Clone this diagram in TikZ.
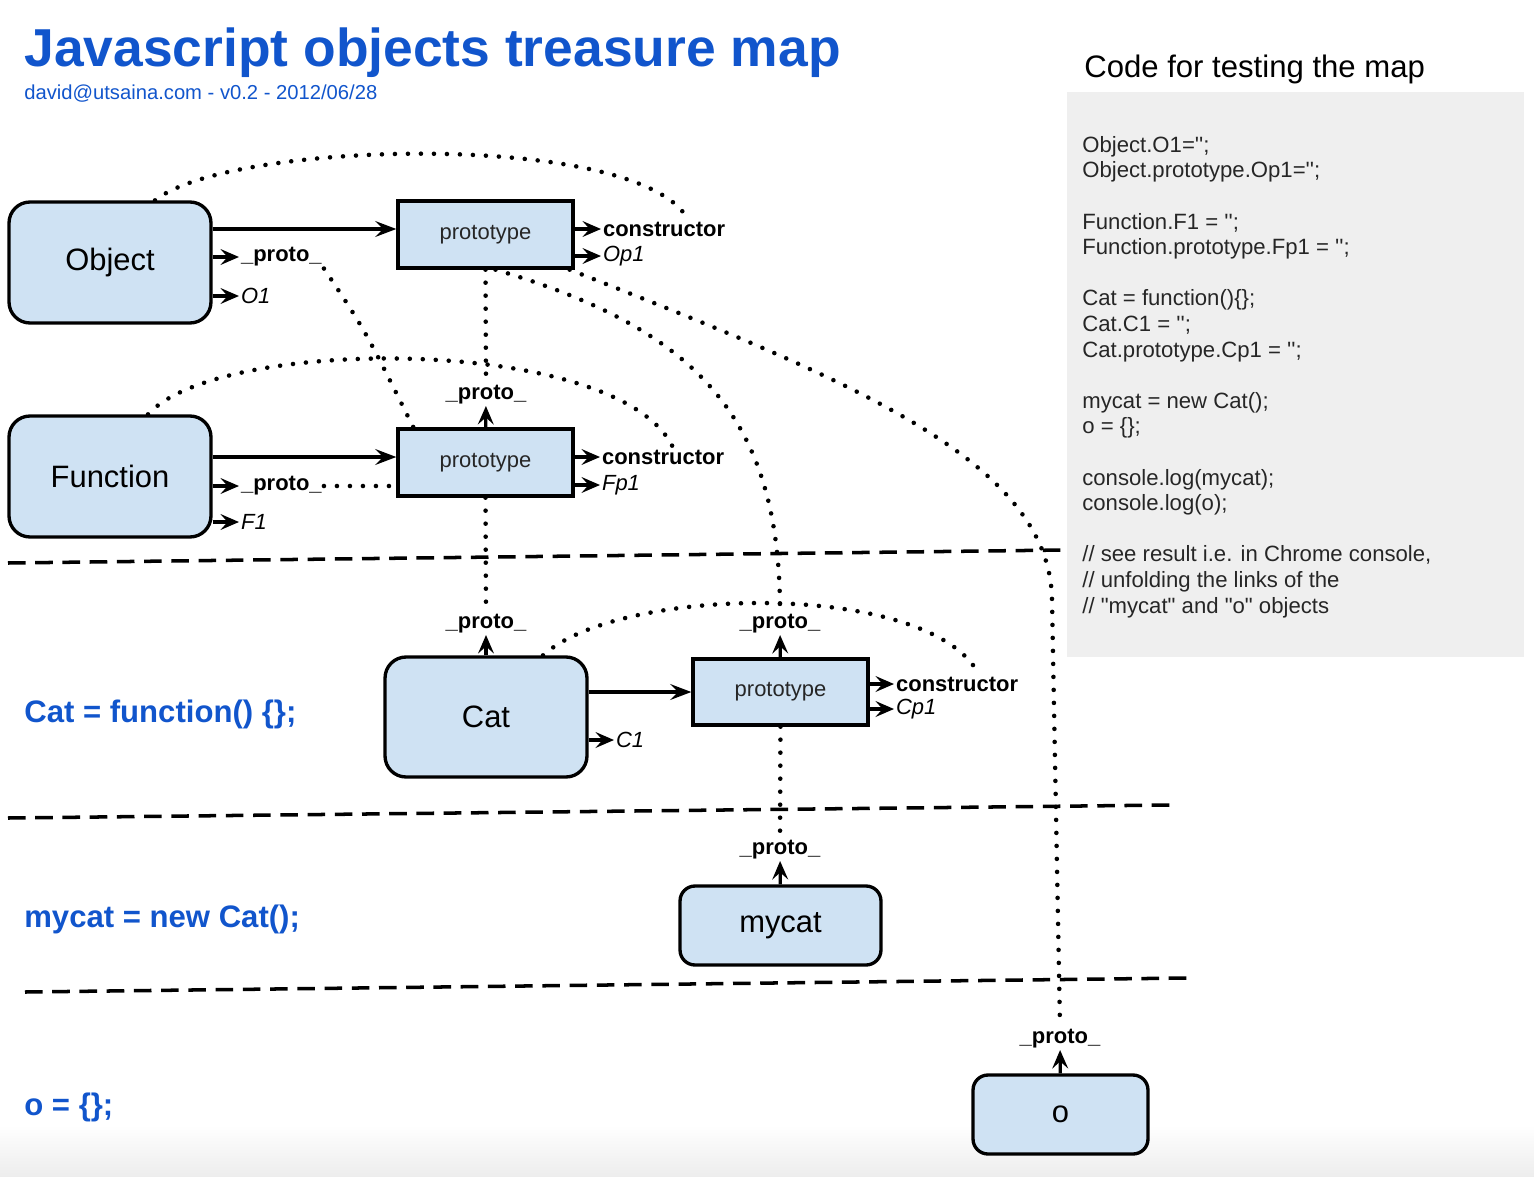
\documentclass[tikz,border=0pt]{standalone}
\usepackage{fontspec}
\setmainfont{Liberation Sans}
\usetikzlibrary{calc,arrows.meta}

\definecolor{mapblue}{HTML}{1155CC}
\definecolor{boxfill}{HTML}{CFE2F3}
\definecolor{codegray}{HTML}{EFEFEF}

\begin{document}
\begin{tikzpicture}[x=0.02cm,y=-0.02cm,
    objbox/.style={draw,line width=1.9pt,fill=boxfill,rounded corners=0.42cm,
        minimum width=4.04cm,minimum height=2.42cm,inner sep=0pt,
        font=\fontsize{17.6}{20}\selectfont},
    protobox/.style={draw,line width=1.9pt,fill=boxfill,
        minimum width=3.5cm,minimum height=1.34cm,inner sep=0pt,
        text=black!85,font=\fontsize{12.5}{15}\selectfont},
    member/.style={anchor=west,inner sep=1pt,font=\fontsize{12.5}{15}\selectfont},
    uplabel/.style={anchor=south,inner sep=1pt,font=\bfseries\fontsize{12.5}{15}\selectfont},
    linkarrow/.style={line width=2.1pt,-{Stealth[length=12pt,width=9pt,inset=4.5pt]}},
    memberarrow/.style={line width=1.9pt,-{Stealth[length=10.5pt,width=9pt,inset=4pt]}},
    refdots/.style={line width=2.6pt,line cap=round,dash pattern=on 0pt off 7.4pt},
    split/.style={line width=2pt,dash pattern=on 10pt off 5.5pt},
    codeline/.style={anchor=west,inner sep=0pt,text=mapblue,
        font=\bfseries\fontsize{17.7}{20}\selectfont}
]

    % Fix the page to the size of the original drawing
    \useasboundingbox (0,0) rectangle (1534,1176);
    \shade[top color=white,bottom color=black!7] (0,1125) rectangle (1534,1176);

    % Title and subtitle
    \node[anchor=base west,inner sep=0pt,text=mapblue,
        font=\bfseries\fontsize{30.4}{36}\selectfont] (title) at (24,67)
        {Javascript objects treasure map};
    \node[anchor=base west,inner sep=0pt,text=mapblue,
        font=\fontsize{11.5}{14}\selectfont] (subtitle) at (24,100)
        {david@utsaina.com - v0.2 - 2012/06/28};

    % Test code on the right
    \node[anchor=base west,inner sep=0pt,font=\fontsize{17.7}{21}\selectfont]
        (codetitle) at (1084,78) {Code for testing the map};
    \fill[codegray] (1067,92) rectangle (1524,657);
    \node[anchor=north west,inner sep=0pt,align=left,text=black!85,
        font=\fontsize{12.6}{14.57}\selectfont] (code) at (1082,136)
        {Object.O1=\textquotesingle\textquotesingle;\\
         Object.prototype.Op1=\textquotesingle\textquotesingle;\\[14.57pt]
         Function.F1 = \textquotesingle\textquotesingle;\\
         Function.prototype.Fp1 = \textquotesingle\textquotesingle;\\[14.57pt]
         Cat = function()\{\};\\
         Cat.C1 = \textquotesingle\textquotesingle;\\
         Cat.prototype.Cp1 = \textquotesingle\textquotesingle;\\[14.57pt]
         mycat = new Cat();\\
         o = \{\};\\[14.57pt]
         console.log(mycat);\\
         console.log(o);\\[14.57pt]
         // see result i.e. in Chrome console,\\
         // unfolding the links of the\\
         // \textquotedbl mycat\textquotedbl{} and \textquotedbl o\textquotedbl{} objects};

    % Separators between the three parts of the code
    \draw[split] (8,563) -- (1065,550);
    \draw[split] (8,818) -- (1170,805);
    \draw[split] (25,992) -- (1188,978);

    % Statements on the left
    \node[codeline] (catcode) at (24,714) {Cat = function() \{\};};
    \node[codeline] (mycatcode) at (24,919) {mycat = new Cat();};
    \node[codeline] (ocode) at (24,1107) {o = \{\};};

    % Object and its prototype
    \node[objbox] (obj) at (110,262.5) {Object};
    \node[protobox] (objproto) at (485.5,234.5) {prototype};
    \node[member] (objp) at (239,257) {\textbf{\_proto\_}};
    \node[member] (objO1) at (239,296) {\textit{O1}};
    \node[member] (objprotoc) at (601,229) {\textbf{constructor}};
    \node[member] (objprotoOp1) at (601,256) {\textit{Op1}};

    % Function and its prototype
    \node[objbox] (fun) at (110,476.5) {Function};
    \node[protobox] (funproto) at (485.5,462.5) {prototype};
    \node[member] (funp) at (239,486) {\textbf{\_proto\_}};
    \node[member] (funF1) at (239,522) {\textit{F1}};
    \node[member] (funprotoc) at (600,457) {\textbf{constructor}};
    \node[member] (funprotoFp1) at (600,485) {\textit{Fp1}};
    \node[uplabel] (funprotop) at (486,406) {\_proto\_};

    % Cat and its prototype
    \node[objbox,minimum height=2.4cm] (cat) at (486,717) {Cat};
    \node[protobox,minimum height=1.32cm] (catproto) at (780.5,692) {prototype};
    \node[member] (catC1) at (614,740) {\textit{C1}};
    \node[member] (catprotoc) at (894,684) {\textbf{constructor}};
    \node[member] (catprotoCp1) at (894,709) {\textit{Cp1}};
    \node[uplabel] (catp) at (486,635) {\_proto\_};
    \node[uplabel] (catprotop) at (780,635) {\_proto\_};

    % The two instances
    \node[objbox,rounded corners=0.3cm,minimum width=4.02cm,minimum height=1.58cm]
        (mycat) at (780.5,925.5) {mycat};
    \node[uplabel] (mycatp) at (780,861) {\_proto\_};
    \node[objbox,rounded corners=0.3cm,minimum width=3.5cm,minimum height=1.58cm]
        (o) at (1060.5,1114.5) {o};
    \node[uplabel] (op) at (1060,1050) {\_proto\_};

    % Solid links
    \draw[linkarrow] (obj.east |- objprotoc) -- (objproto.west |- objprotoc);
    \draw[linkarrow] (fun.east |- funprotoc) -- (funproto.west |- funprotoc);
    \draw[linkarrow] (cat.east |- catproto) -- (catproto);
    \draw[memberarrow] (obj.east |- objp) -- (objp);
    \draw[memberarrow] (obj.east |- objO1) -- (objO1);
    \draw[memberarrow] (objproto.east |- objprotoc) -- (objprotoc);
    \draw[memberarrow] (objproto.east |- objprotoOp1) -- (objprotoOp1);
    \draw[memberarrow] (fun.east |- funp) -- (funp);
    \draw[memberarrow] (fun.east |- funF1) -- (funF1);
    \draw[memberarrow] (funproto.east |- funprotoc) -- (funprotoc);
    \draw[memberarrow] (funproto.east |- funprotoFp1) -- (funprotoFp1);
    \draw[memberarrow] (cat.east |- catC1) -- (catC1);
    \draw[memberarrow] (catproto.east |- catprotoc) -- (catprotoc);
    \draw[memberarrow] (catproto.east |- catprotoCp1) -- (catprotoCp1);
    \draw[memberarrow] (funproto) -- (funprotop);
    \draw[memberarrow] (cat) -- (catp);
    \draw[memberarrow] (catproto) -- (catprotop);
    \draw[memberarrow] (mycat) -- (mycatp);
    \draw[memberarrow] (o) -- (op);

    % Dotted references: constructors back to their functions
    \draw[refdots] ($(obj.north)+(45,0)$) .. controls (230,140) and (640,130)
        .. ($(objprotoc.north)+(24,0)$);
    \draw[refdots] ($(fun.north)+(38,0)$) .. controls (220,335) and (620,335)
        .. ($(funprotoc.north)+(10,0)$);
    \draw[refdots] ($(cat.north)+(57,0)$) .. controls (620,585) and (930,580)
        .. ($(catprotoc.north)+(22,0)$);

    % Dotted references: _proto_ chains
    \draw[refdots] (objp.south east) .. controls (365,330) .. ($(funproto.north west)+(17,0)$);
    \draw[refdots] (funp.east) -- (funproto.west |- funp);
    \draw[refdots] (objproto.south) -- (funprotop.north);
    \draw[refdots] (funproto.south) -- (catp.north);
    \draw[refdots] ($(objproto.south)+(10,0)$) .. controls (700,330) and (780,420)
        .. (catprotop.north);
    \draw[refdots] ($(objproto.south east)+(-5,0)$) .. controls (850,380) and (1050,460)
        .. (1052,600) -- (op.north);
    \draw[refdots] (catproto.south) -- (mycatp.north);

\end{tikzpicture}
\end{document}
